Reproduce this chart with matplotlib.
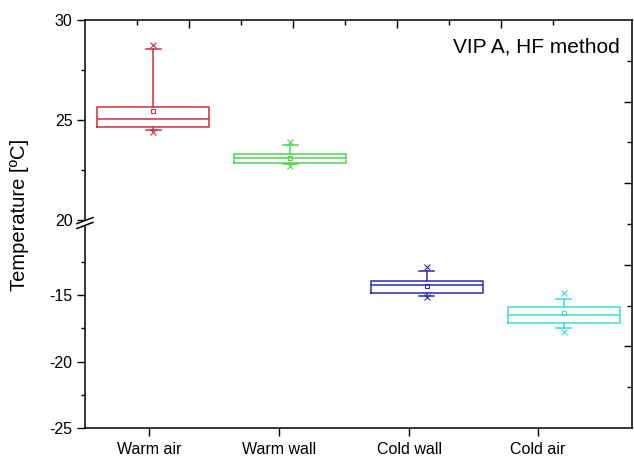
import matplotlib.pyplot as plt
import numpy as np

plt.rcParams['font.family'] = ['Liberation Sans', 'DejaVu Sans']
plt.rcParams['axes.unicode_minus'] = False

# ---------------- data ----------------
groups = ['Warm air', 'Warm wall', 'Cold wall', 'Cold air']
colors = ['#c8323c', '#4cd44c', '#2a2ab8', '#3adada']
q1 = [24.65, 22.85, -14.83, -17.13]
med = [25.05, 23.10, -14.25, -16.50]
q3 = [25.65, 23.30, -13.95, -15.88]
whislo = [24.50, 22.80, -15.05, -17.48]
whishi = [28.55, 23.75, -13.17, -15.30]
means = [25.45, 23.10, -14.32, -16.35]
t_min = [24.40, 22.70, -15.15, -17.76]
t_max = [28.75, 23.90, -12.90, -14.85]

label_pos = [0.97, 1.92, 2.87, 3.81]

# ---------------- layout ----------------
fig = plt.figure(figsize=(6.34, 4.58), dpi=100)
left, width = 0.134, 0.8628
ax_hi = fig.add_axes([left, 0.5197, width, 0.4367])
ax_lo = fig.add_axes([left, 0.0655, width, 0.4410])
ax_frame = fig.add_axes([left, 0.0655, width, 0.8908])
ax_frame.patch.set_visible(False)

for i in range(len(groups)):
    stats = [dict(med=med[i], q1=q1[i], q3=q3[i], whislo=whislo[i],
                  whishi=whishi[i], mean=means[i],
                  fliers=[t_min[i], t_max[i]], label=groups[i])]
    c = colors[i]
    for ax in (ax_hi, ax_lo):
        art = ax.bxp(stats, positions=[i + 1], widths=0.82, capwidths=0.11,
                     showmeans=True, patch_artist=False,
                     boxprops=dict(color=c, lw=1.1),
                     medianprops=dict(color=c, lw=1.1),
                     whiskerprops=dict(color=c, lw=1.1),
                     capprops=dict(color=c, lw=1.1),
                     meanprops=dict(marker='s', markersize=3.5),
                     flierprops=dict(marker='x', markersize=4,
                                     markeredgecolor=c, markeredgewidth=0.8))
        for m in art['means']:
            m.set_markerfacecolor('none')
            m.set_markeredgecolor(c)
            m.set_markeredgewidth(0.8)

for ax in (ax_hi, ax_lo):
    ax.set_xlim(0.5, 4.5)
    ax.patch.set_visible(False)
    ax.spines['top'].set_visible(False)
    ax.spines['right'].set_visible(False)
    for s in ax.spines.values():
        s.set_linewidth(1.1)
    ax.tick_params(axis='y', which='major', direction='out', length=6,
                   width=1, labelsize=11.5, pad=3)
    ax.tick_params(axis='y', which='minor', direction='out', length=3, width=1)

# upper segment
ax_hi.set_ylim(20, 30)
ax_hi.set_yticks([20, 25, 30])
ax_hi.set_yticks([22.5, 27.5], minor=True)
ax_hi.spines['bottom'].set_visible(False)
ax_hi.tick_params(axis='x', bottom=False, labelbottom=False)

# lower segment
ax_lo.set_ylim(-25, -9.8)
ax_lo.set_yticks([-25, -20, -15])
ax_lo.set_yticks([-22.5, -17.5, -12.5], minor=True)
ax_lo.set_xticks(label_pos)
ax_lo.set_xticklabels(groups)
ax_lo.tick_params(axis='x', direction='out', length=6, width=1,
                  labelsize=11.5, pad=4)

# break marks on the left axis
kw = dict(color='black', lw=1.1, clip_on=False)
ax_hi.plot([-0.0146, 0.0146], [-0.018, 0.012], transform=ax_hi.transAxes, **kw)
ax_lo.plot([-0.0146, 0.0146], [0.988, 1.018], transform=ax_lo.transAxes, **kw)

# outer frame with inward ticks on top and right
ax_frame.set_xlim(0, 1)
ax_frame.set_ylim(0, 1)
ax_frame.spines['left'].set_visible(False)
ax_frame.spines['bottom'].set_visible(False)
for s in ax_frame.spines.values():
    s.set_linewidth(1.1)
step = 0.0951
ax_frame.set_xticks(step * np.array([2, 4, 6, 8]))
ax_frame.set_xticks(step * np.array([1, 3, 5, 7, 9]), minor=True)
ax_frame.set_yticks([0.2, 0.4, 0.6, 0.8])
ax_frame.set_yticks([0.1, 0.3, 0.5, 0.7, 0.9], minor=True)
ax_frame.tick_params(which='both', direction='in', width=1,
                     top=True, right=True, bottom=False, left=False,
                     labeltop=False, labelright=False,
                     labelbottom=False, labelleft=False)
ax_frame.tick_params(which='major', length=6)
ax_frame.tick_params(which='minor', length=3.5)

ax_frame.text(0.978, 0.934, 'VIP A, HF method', transform=ax_frame.transAxes,
              ha='right', va='center', fontsize=15)

fig.text(0.03, 1 - 215 / 458, 'Temperature [ºC]', rotation=90,
         ha='center', va='center', fontsize=14.5)

fig.savefig('out.png', dpi=100)
